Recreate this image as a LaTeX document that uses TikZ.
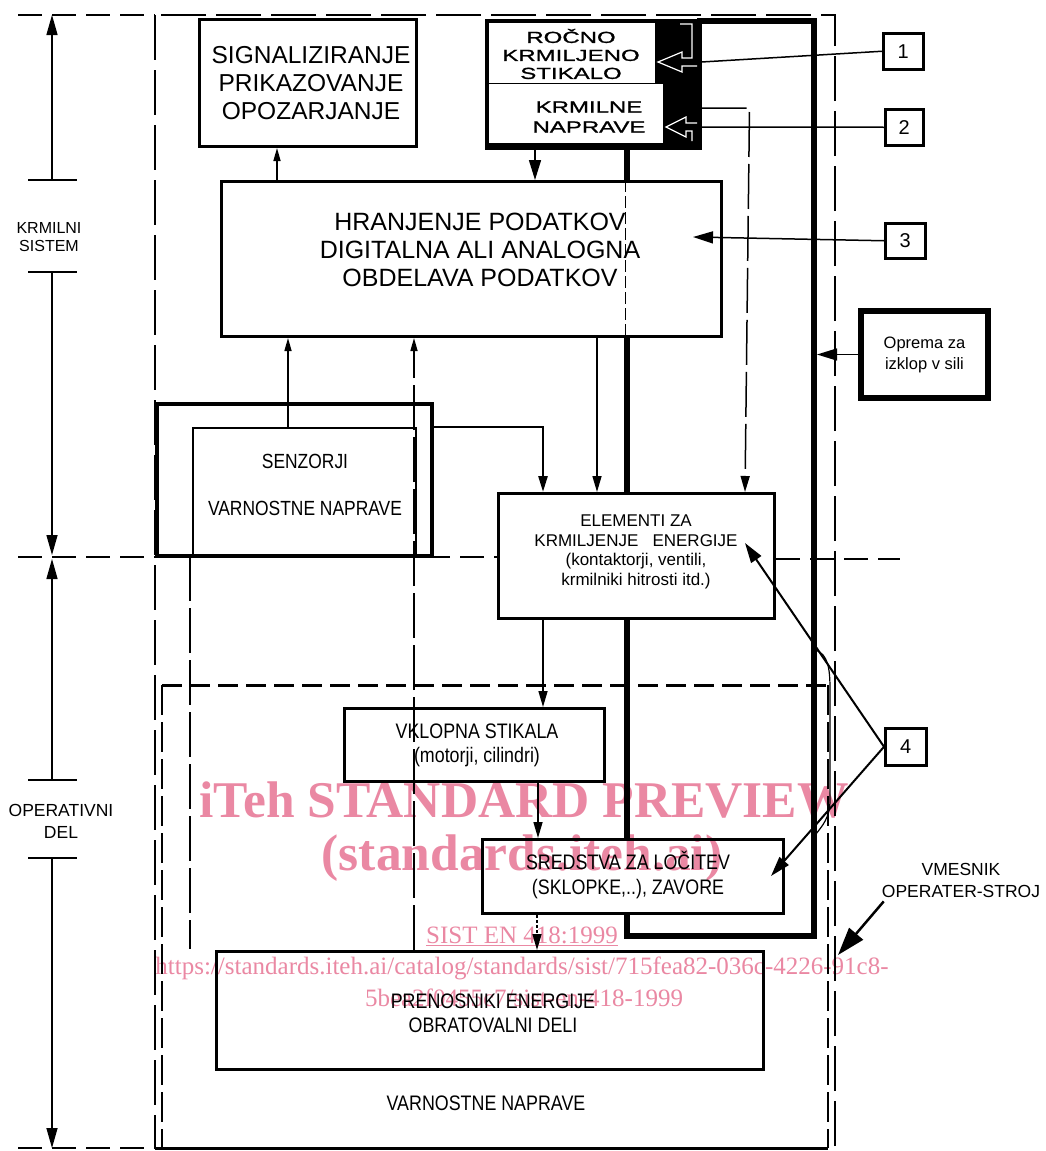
\documentclass[tikz,border=0pt]{standalone}
\usepackage{fontspec}
\setmainfont{Liberation Sans}
\newfontfamily\widef[FakeStretch=1.5,FakeBold=1.2]{Liberation Sans}
\newfontfamily\narrowf[FakeStretch=0.85]{Liberation Sans}
\newfontfamily\wmf{Liberation Serif}
\usetikzlibrary{arrows.meta,calc}
\definecolor{wmpink}{RGB}{234,136,163}
\begin{document}
\begin{tikzpicture}[x=1pt,y=-1pt,line join=miter,
  box/.style={draw,line width=3pt,fill=white,inner sep=0pt,anchor=north west},
  numbox/.style={box,line width=2.5pt,font=\fontsize{20}{20}\selectfont},
  txt/.style={align=center,inner sep=0pt},
  thinl/.style={line width=1.5pt},
  arr/.style={line width=1.5pt,-{Triangle[length=16pt,width=9pt]}},
  arrS/.style={line width=1.5pt,-{Triangle[length=13pt,width=7pt]}},
  arrB/.style={line width=1.5pt,-{Triangle[length=20pt,width=12pt]}},
  dimarr/.style={line width=1.5pt,-{Triangle[length=20pt,width=11pt]}},
  ext/.style={line width=2pt,dash pattern=on 24pt off 10pt},
  tick/.style={line width=2pt},
  longdash/.style={dash pattern=on 45pt off 7pt},
  wm/.style={inner sep=0pt,text=wmpink}]
\useasboundingbox (0,0) rectangle (1045,1151);

% ---------------- coordinates
\coordinate (dT) at (52,15);
\coordinate (dM) at (52,557);
\coordinate (dB) at (52,1148);
\coordinate (tk1) at (52,180);
\coordinate (tk2) at (52,272);
\coordinate (tk3) at (52,780);
\coordinate (tk4) at (52,858);
\coordinate (midL) at (18,557);
\coordinate (midR) at (900,559);
\coordinate (lpA) at (627,936);
\coordinate (lpB) at (814,936);
\coordinate (lpC) at (814,21);
\coordinate (vmT) at (838,955);

% ---------------- emergency loop (thick)
\draw[line width=6pt] (627,140) -- (lpA) -- (lpB) -- (lpC) -- (697,21);
\draw[line width=1.2pt] (816,650) .. controls (828,655) and (830,668) .. (830,690) -- (830,800) .. controls (830,818) and (822,826) .. (816,834);

% ---------------- frames
\draw[line width=2.5pt,dash pattern=on 45pt off 10pt] (155,15) rectangle (835,1148);
\draw[line width=3pt,dash pattern=on 20pt off 8pt] (162,685) -- (828,685);
\draw[line width=1.8pt,dash pattern=on 30pt off 7pt] (162,685) -- (162,1148);
\draw[line width=1.8pt,dash pattern=on 30pt off 7pt] (828,685) -- (828,1148);
\draw[line width=3pt] (155,1148) -- (828,1148);

% ---------------- dimension
\draw[ext] (18,15) -- (155,15);
\draw[ext] (18,1148) -- (155,1148);
\draw[tick] ($(tk1)+(-24,0)$) -- ($(tk1)+(25,0)$);
\draw[tick] ($(tk2)+(-24,0)$) -- ($(tk2)+(25,0)$);
\draw[tick] ($(tk3)+(-24,0)$) -- ($(tk3)+(25,0)$);
\draw[tick] ($(tk4)+(-24,0)$) -- ($(tk4)+(25,0)$);
\draw[dimarr] (tk1) -- (dT);
\draw[dimarr] (tk2) -- ($(dM)+(0,-2)$);
\draw[dimarr] (tk3) -- ($(dM)+(0,2)$);
\draw[dimarr] (tk4) -- (dB);
\node[txt,font=\fontsize{16}{18}\selectfont] (dimK) at (49,237) {KRMILNI\\SISTEM};
\node[txt,font=\fontsize{17.5}{22}\selectfont] (dimO) at (61,821) {OPERATIVNI\\DEL};

% ---------------- boxes
\node[box,minimum width=217pt,minimum height=127pt] (sig) at (198,18) {};
\node[box,fill=black,line width=4.5pt,minimum width=212pt,minimum height=126pt] (man) at (485,19) {};
\node[box,line width=1pt,minimum width=167pt,minimum height=61pt] (ruc) at (488,22) {};
\node[box,line width=1pt,minimum width=175pt,minimum height=60pt] (krn) at (488,83) {};
\node[box,minimum width=500pt,minimum height=155pt] (hran) at (220,180) {};
\node[box,line width=4pt,minimum width=275pt,minimum height=152pt] (sensO) at (155,402) {};
\node[box,line width=2pt,minimum width=223pt,minimum height=127pt] (sensI) at (192,427) {};
\node[box,minimum width=276pt,minimum height=125pt] (elem) at (497,492) {};
\node[box,minimum width=260pt,minimum height=73pt] (vklop) at (343,707) {};
\node[box,minimum width=301pt,minimum height=74pt] (sred) at (481,838) {};
\node[box,minimum width=547pt,minimum height=118pt] (pren) at (215,950) {};
\node[numbox,minimum width=40pt,minimum height=36pt] (n1) at (882,32) {1};
\node[numbox,minimum width=38pt,minimum height=36pt] (n2) at (884,108) {2};
\node[numbox,minimum width=40pt,minimum height=35pt] (n3) at (884,222) {3};
\node[numbox,minimum width=41pt,minimum height=37pt] (n4) at (884,727) {4};
\node[box,line width=6pt,minimum width=127pt,minimum height=87pt,align=center,
      font=\fontsize{16.5}{21}\selectfont] (opr) at (858,308) {Oprema za\\izklop v sili};

% dashed inner line of the loop inside the data box
\draw[line width=1pt,dash pattern=on 12pt off 4pt] ($(hran.north west)+(405,0)$) -- ($(hran.south west)+(405,0)$);

% mid dashed boundary
\draw[ext] (midL) -- (midL -| elem.west);
\draw[ext] (elem.east |- midR) -- (midR);

% ---------------- texts
\node[txt,font=\fontsize{24.5}{28}\selectfont] (tsig) at (311,83) {SIGNALIZIRANJE\\PRIKAZOVANJE\\OPOZARJANJE};
\node[txt,font=\widef\fontsize{16}{18}\selectfont] (truc) at (571,54) {ROČNO\\KRMILJENO\\STIKALO};
\node[txt,font=\widef\fontsize{16}{20}\selectfont] (tkrn) at (589,117) {KRMILNE\\NAPRAVE};
\node[txt,font=\fontsize{25}{28}\selectfont] (thran) at (480,250) {HRANJENJE PODATKOV\\DIGITALNA ALI ANALOGNA\\OBDELAVA PODATKOV};
\node[txt,font=\narrowf\fontsize{20.5}{24}\selectfont] (tsen1) at (305,461) {SENZORJI};
\node[txt,font=\narrowf\fontsize{20.5}{24}\selectfont] (tsen2) at (305,508) {VARNOSTNE NAPRAVE};
\node[txt,font=\fontsize{17}{19.5}\selectfont] (telem) at (636,552) {ELEMENTI ZA\\KRMILJENJE\ \ \ ENERGIJE\\(kontaktorji, ventili,\\krmilniki hitrosti itd.)};
\node[txt,font=\narrowf\fontsize{21}{24}\selectfont] (tvk) at (477,745) {VKLOPNA STIKALA\\(motorji, cilindri)};
\node[txt,font=\narrowf\fontsize{21}{25}\selectfont] (tsr) at (628,875) {SREDSTVA ZA LOČITEV\\(SKLOPKE,..), ZAVORE};
\node[txt,font=\narrowf\fontsize{21}{24}\selectfont] (tpr) at (493,1013) {PRENOSNIKI ENERGIJE\\OBRATOVALNI DELI};
\node[txt,font=\narrowf\fontsize{21}{24}\selectfont] (tvn) at (486,1103) {VARNOSTNE NAPRAVE};
\node[txt,font=\fontsize{17.5}{22}\selectfont] (vm) at (961,880) {VMESNIK\\OPERATER-STROJ};

% ---------------- hollow white arrows in the black field
\draw[white,line width=1.2pt] (680,24) -- (692,24) -- (692,58) -- (682,58) -- (682,52) -- (658,62) -- (682,72) -- (682,66) -- (697,66);
\draw[white,line width=1.2pt] (697,123) -- (686,123) -- (686,117) -- (666,127) -- (686,137) -- (686,131) -- (692,131) -- (692,141);

% ---------------- connectors
\draw[arrS] ($(hran.north west)+(57,0)$) -- ($(sig.south west)+(79,0)$);
\draw[arrB] ($(man.south west)+(50,0)$) -- ($(hran.north west)+(315,0)$);
\draw[arr] ($(hran.south west)+(377,0)$) -- ($(elem.north west)+(100,0)$);
\draw[arr,line width=2.5pt] (sensO.east |- sensI.north) -| ($(elem.north west)+(46,0)$);
\draw[arrS] ($(sensI.north west)+(96,0)$) -- ($(hran.south west)+(68,0)$);
\draw[arrS,longdash] ($(pren.north west)+(199,0)$) -- ($(hran.south west)+(194,0)$);
\draw[thinl,longdash] ($(sensI.south west)+(-2,0)$) -- ++(0,393);
\draw[arr,longdash] ($(man.north east)+(0,89)$) -- ++(48,0) -- ($(elem.north west)+(248,0)$);
\draw[arr] ($(elem.south west)+(46,0)$) -- ($(vklop.north west)+(200,0)$);
\draw[arr] ($(vklop.south west)+(195,0)$) -- ($(sred.north west)+(57,0)$);
\draw[arr,dash pattern=on 3pt off 2pt] ($(sred.south west)+(56,0)$) -- ($(pren.north west)+(322,0)$);
\draw[arrB] (n3.west) -- ($(hran.north east)+(-30,57)$);
\draw[thinl] (n1.west) -- ($(man.north east)+(0,43)$);
\draw[thinl] (n2.west) -- ($(man.north east)+(0,108)$);
\draw[arrB,shorten >=3pt] (opr.west) -- (opr.west -| lpC);
\draw[arrB,line width=2pt] (n4.west) -- ($(elem.north east)+(-31,51)$);
\draw[arrB,line width=2pt] (n4.west) -- ($(sred.north east)+(-14,38)$);
\draw[line width=2.5pt,-{Triangle[length=28pt,width=18pt]}] ($(vm.south west)+(2,4)$) -- (vmT);

% ---------------- watermark
\begin{scope}[blend mode=multiply]
\node[wm,font=\wmf\bfseries\fontsize{51.5}{51.5}\selectfont] (wm1) at (524,800) {iTeh STANDARD PREVIEW};
\node[wm,font=\wmf\bfseries\fontsize{51.5}{51.5}\selectfont] (wm2) at (522,858) {(standards.iteh.ai)};
\node[wm,font=\wmf\fontsize{25}{25}\selectfont] (wm3) at (522,936) {\underline{SIST EN 418:1999}};
\node[wm,font=\wmf\fontsize{25}{25}\selectfont] (wm4) at (522,968) {https://standards.iteh.ai/catalog/standards/sist/715fea82-036c-4226-91c8-};
\node[wm,font=\wmf\fontsize{25}{25}\selectfont] (wm5) at (524,998) {5bea2f0455c7/sist-en-418-1999};
\end{scope}
\end{tikzpicture}
\end{document}
